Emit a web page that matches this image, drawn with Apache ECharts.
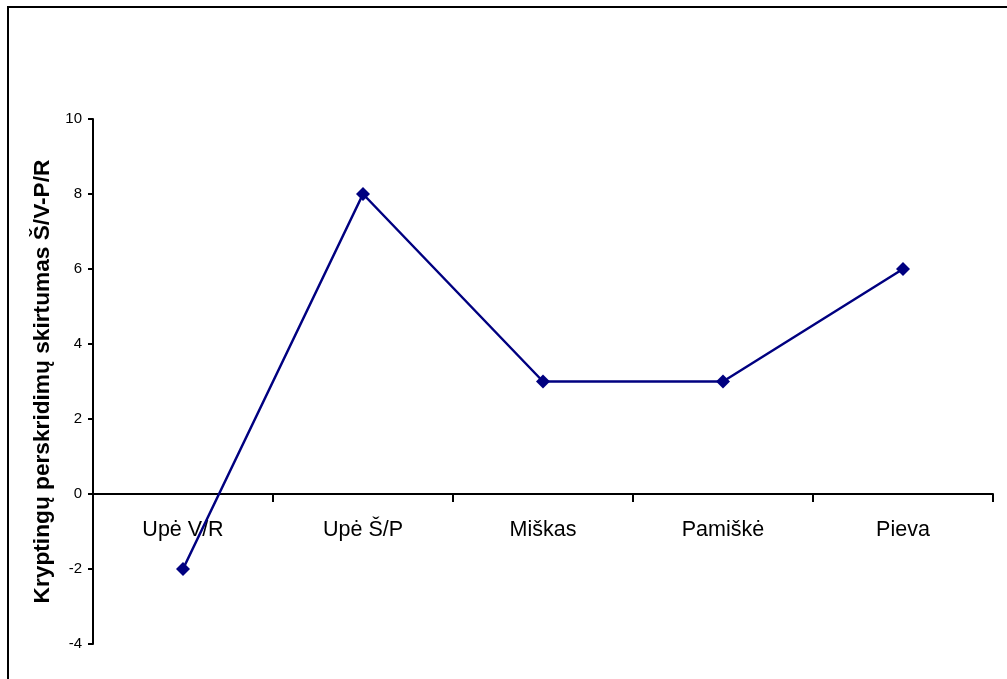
<!DOCTYPE html>
<html>
<head>
<meta charset="utf-8">
<script src="https://cdn.jsdelivr.net/npm/echarts@6/dist/echarts.min.js"></script>
<style>
  html, body { margin: 0; padding: 0; background: #fff; }
  #chart { width: 1007px; height: 679px; }
</style>
</head>
<body>
<div id="chart"></div>
<script>
// Habitat categories and direction differences
const categories = ['Upė V/R', 'Upė Š/P', 'Miškas', 'Pamiškė', 'Pieva'];
const values = [-2, 8, 3, 3, 6];
const yTitle = 'Kryptingų perskridimų skirtumas Š/V-P/R';

const chart = echarts.init(document.getElementById('chart'), null, { renderer: 'canvas' });

chart.setOption({
  backgroundColor: '#ffffff',
  animation: false,
  graphic: [{
    type: 'rect',
    shape: { x: 8, y: 7, width: 1100, height: 800 },
    style: { fill: 'none', stroke: '#000', lineWidth: 2 },
    silent: true
  }],
  grid: { left: 93, right: 14, top: 119, bottom: 35, outerBoundsMode: 'none', containLabel: false },
  xAxis: {
    type: 'category',
    data: categories,
    boundaryGap: true,
    axisLine: { onZero: true, lineStyle: { color: '#000', width: 2 } },
    axisTick: { show: true, length: 8, lineStyle: { color: '#000', width: 2 } },
    // labels sit just under the zero line
    axisLabel: { color: '#000', fontFamily: 'Liberation Sans, Arial', fontSize: 21.5, margin: -125 },
    splitLine: { show: false }
  },
  yAxis: {
    type: 'value',
    min: -4,
    max: 10,
    interval: 2,
    name: yTitle,
    nameLocation: 'middle',
    nameGap: 31,
    nameRotate: 90,
    nameTextStyle: { color: '#000', fontFamily: 'Liberation Sans, Arial', fontSize: 22.7, fontWeight: 'bold' },
    axisLine: { show: true, lineStyle: { color: '#000', width: 2 } },
    axisTick: { show: true, length: 5, lineStyle: { color: '#000', width: 2 } },
    axisLabel: { color: '#000', fontFamily: 'Liberation Sans, Arial', fontSize: 15, margin: 11 },
    splitLine: { show: false }
  },
  series: [{
    type: 'line',
    data: values,
    symbol: 'diamond',
    symbolSize: 14,
    lineStyle: { color: '#000080', width: 2.5 },
    itemStyle: { color: '#000080' }
  }]
});
</script>
</body>
</html>
